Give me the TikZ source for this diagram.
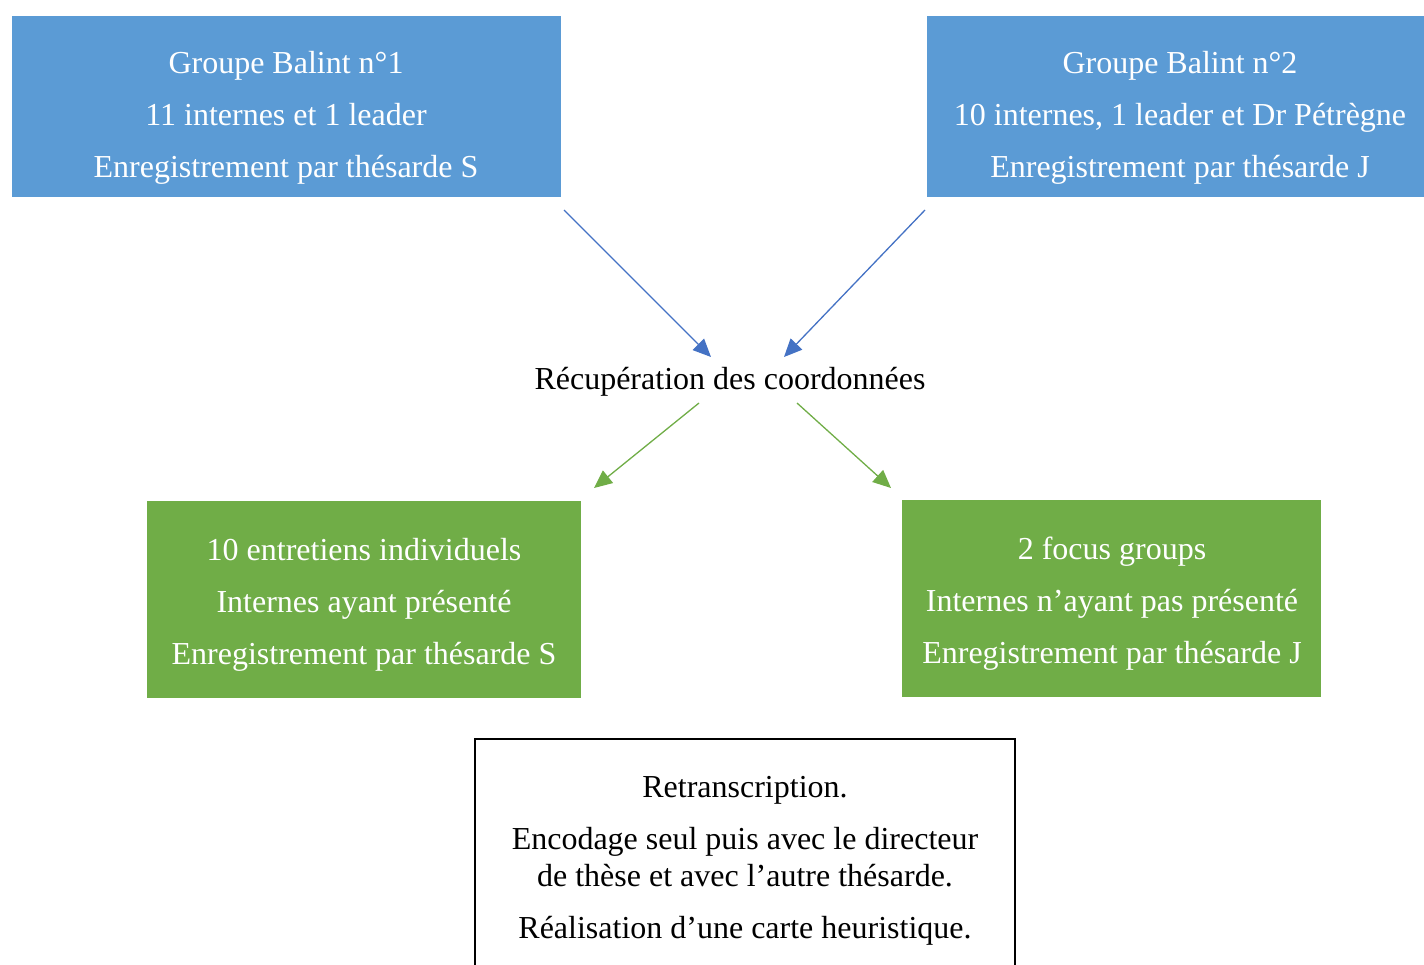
\documentclass[tikz,border=0pt]{standalone}
\usepackage{fontspec}
\setmainfont{Liberation Serif}
\usetikzlibrary{arrows.meta,calc}
\definecolor{boxblue}{HTML}{5B9BD5}
\definecolor{boxgreen}{HTML}{70AD47}
\definecolor{arrblue}{HTML}{4472C4}
\tikzset{
  fillbox/.style={draw=none, inner sep=0pt, outer sep=0pt},
  bluebox/.style={fillbox, fill=boxblue},
  greenbox/.style={fillbox, fill=boxgreen},
  wtext/.style={inner sep=0pt, align=center, text=white, font=\fontsize{32}{52}\selectfont},
  btext/.style={inner sep=0pt, align=center, text=black, font=\fontsize{32}{37}\selectfont},
  barrow/.style={draw=arrblue, line width=1.3pt, -{Triangle[length=18pt,width=16pt]}},
  garrow/.style={draw=boxgreen, line width=1.3pt, -{Triangle[length=18pt,width=16pt]}},
}
\begin{document}
\begin{tikzpicture}[x=1pt,y=-1pt]
\useasboundingbox (0,0) rectangle (1424,964);
\clip (0,0) rectangle (1424,964);
% top blue boxes
\node[bluebox, minimum width=549pt, minimum height=181pt] (b1) at (286.5,106.5) {};
\node[wtext] (t1) at (286,118) {Groupe Balint n°1\\11 internes et 1 leader\\Enregistrement par thésarde S};
\node[bluebox, minimum width=510pt, minimum height=181pt] (b2) at (1182,106.5) {};
\node[wtext] (t2) at (1180,118) {Groupe Balint n°2\\10 internes, 1 leader et Dr Pétrègne\\Enregistrement par thésarde J};
% middle text
\node[inner sep=0pt, font=\fontsize{32}{37}\selectfont] (rec) at (730,382) {Récupération des coordonnées};
% green boxes
\node[greenbox, minimum width=434pt, minimum height=197pt] (g1) at (364,599.5) {};
\node[wtext] (t3) at (364,605) {10 entretiens individuels\\Internes ayant présenté\\Enregistrement par thésarde S};
\node[greenbox, minimum width=419pt, minimum height=197pt] (g2) at (1111.5,598.5) {};
\node[wtext] (t4) at (1112,604) {2 focus groups\\Internes n’ayant pas présenté\\Enregistrement par thésarde J};
% bottom box
\node[draw=black, line width=2pt, inner sep=0pt, minimum width=540pt, minimum height=300pt] (f) at (745,889) {};
\node[btext] (t5) at (745,861) {Retranscription.\\[15pt]Encodage seul puis avec le directeur\\de thèse et avec l’autre thésarde.\\[15pt]Réalisation d’une carte heuristique.};
% arrows
\draw[barrow] ($(b1.south east)+(3,13)$) -- ($(rec.center)+(-19,-25)$);
\draw[barrow] ($(b2.south west)+(-2,13)$) -- ($(rec.center)+(54,-25)$);
\draw[garrow] ($(rec.center)+(-31,21)$) -- ($(g1.north east)+(13,-13)$);
\draw[garrow] ($(rec.center)+(67,21)$) -- ($(g2.north west)+(-11,-12)$);
\end{tikzpicture}
\end{document}
